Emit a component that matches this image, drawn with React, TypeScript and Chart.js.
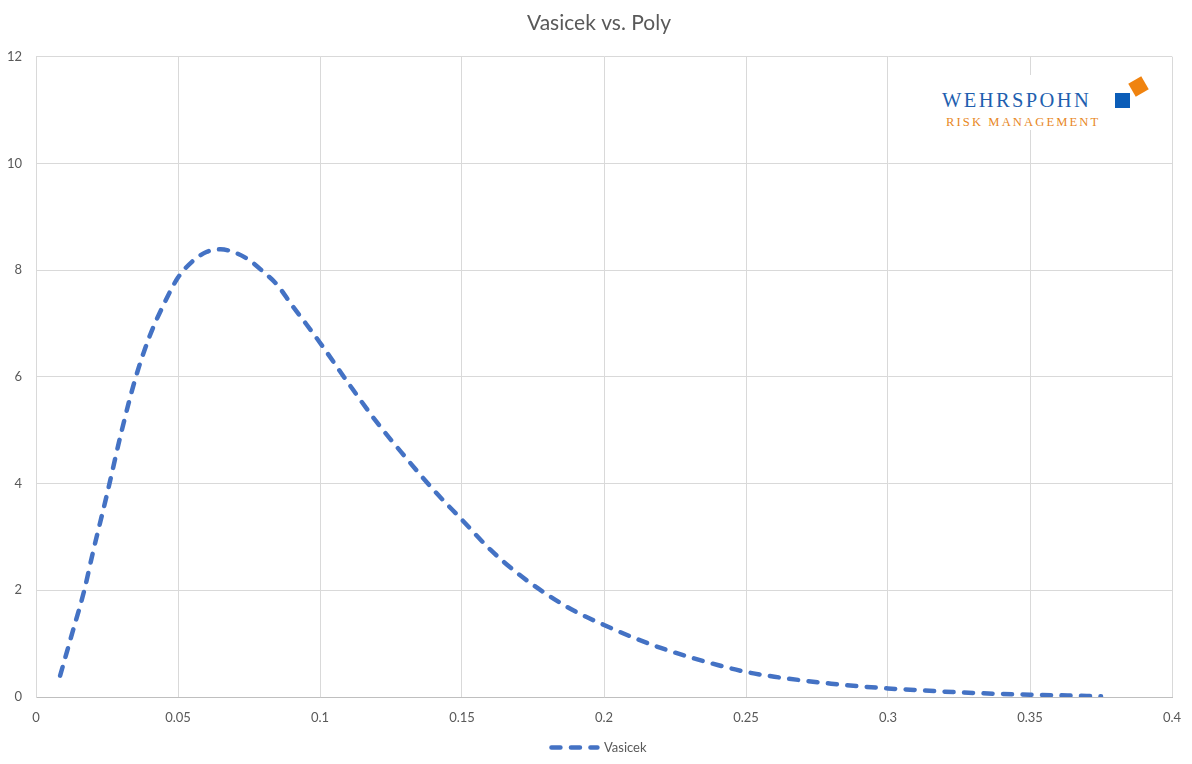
import React, { useEffect, useRef } from "react";
import { Chart, registerables } from "chart.js";

Chart.register(...registerables);

const TITLE = "Vasicek vs. Poly";
const SERIES_NAME = "Vasicek";

const xValues = [
  0.0085, 0.0125, 0.017, 0.02, 0.025, 0.03, 0.035, 0.04, 0.045, 0.05, 0.055, 0.06, 0.065,
  0.07, 0.075, 0.08, 0.085, 0.09, 0.095, 0.1, 0.11, 0.12, 0.13, 0.14, 0.15, 0.16, 0.17,
  0.18, 0.19, 0.2, 0.21, 0.22, 0.23, 0.24, 0.25, 0.26, 0.27, 0.28, 0.29, 0.3, 0.31, 0.32,
  0.33, 0.34, 0.35, 0.36, 0.37, 0.375,
];

const vasicekValues = [
  0.4, 1.15, 2.0, 2.7, 3.8, 4.95, 5.97, 6.76, 7.36, 7.86, 8.16, 8.34, 8.39,
  8.33, 8.19, 7.97, 7.72, 7.35, 7.0, 6.64, 5.88, 5.15, 4.5, 3.88, 3.32, 2.76, 2.3,
  1.92, 1.6, 1.35, 1.12, 0.92, 0.75, 0.6, 0.47, 0.38, 0.31, 0.25, 0.2, 0.16, 0.13, 0.1,
  0.075, 0.058, 0.044, 0.032, 0.02, 0.013,
];

const xMin = 0;
const xMax = 0.4;
const xStep = 0.05;
const yMin = 0;
const yMax = 12;
const yStep = 2;

const FONT = "Lato, 'Open Sans', sans-serif";
const TEXT = "#595959";
const GRID = "#D9D9D9";
const LINE = "#4472C4";
const DASH = [9, 10.5];
const LINE_W = 4.5;

// shifts the title and legend boxes so they are centred like the reference
const centerShift = {
  id: "centerShift",
  afterLayout(chart: any) {
    if (chart.titleBlock) chart.titleBlock.left = 26;
    if (chart.legend) chart.legend.left = 26;
  },
};

export default function App() {
  const ref = useRef<HTMLCanvasElement | null>(null);

  useEffect(() => {
    document.body.style.margin = "0";
    if (!ref.current) return;
    const chart = new Chart(ref.current, {
      type: "line",
      data: {
        datasets: [
          {
            label: SERIES_NAME,
            data: xValues.map((x, i) => ({ x, y: vasicekValues[i] })),
            borderColor: LINE,
            backgroundColor: LINE,
            borderWidth: LINE_W,
            borderDash: DASH,
            borderCapStyle: "round",
            pointRadius: 0,
            pointHoverRadius: 0,
            fill: false,
            cubicInterpolationMode: "monotone",
          },
        ],
      },
      options: {
        animation: false,
        responsive: true,
        maintainAspectRatio: false,
        layout: { padding: { left: 0, right: 20, top: 0, bottom: 0 } },
        plugins: {
          title: {
            display: true,
            text: TITLE,
            color: TEXT,
            font: { family: FONT, size: 21, weight: "normal" },
            padding: { top: 11, bottom: 20.5 },
          },
          legend: {
            display: true,
            position: "bottom",
            labels: {
              color: TEXT,
              font: { family: FONT, size: 13 },
              usePointStyle: true,
              pointStyle: "line",
              pointStyleWidth: 46,
              padding: 6,
              generateLabels: (c: any) =>
                Chart.defaults.plugins.legend.labels.generateLabels(c).map((l: any) => ({
                  ...l,
                  pointStyle: "line",
                  strokeStyle: LINE,
                  fillStyle: LINE,
                  lineWidth: LINE_W,
                  lineDash: DASH,
                  lineCap: "round",
                  fontColor: TEXT,
                })),
            },
          },
          tooltip: { enabled: false },
        },
        scales: {
          x: {
            type: "linear",
            min: xMin,
            max: xMax,
            ticks: {
              stepSize: xStep,
              color: TEXT,
              font: { family: FONT, size: 13 },
              padding: 10,
              maxRotation: 0,
              callback: (v: any) => String(Number(Number(v).toFixed(2))),
            },
            grid: { color: GRID, drawTicks: true, tickLength: 3, tickColor: "rgba(0,0,0,0)" },
            border: { color: "#BFBFBF", width: 1 },
            afterFit: (s: any) => {
              s.height = 38;
            },
          },
          y: {
            min: yMin,
            max: yMax,
            ticks: {
              stepSize: yStep,
              color: TEXT,
              font: { family: FONT, size: 13 },
              padding: 14,
            },
            grid: { color: GRID, drawTicks: false },
            border: { color: GRID, width: 1 },
            afterFit: (s: any) => {
              s.width = 36;
            },
          },
        },
      },
      plugins: [centerShift],
    });
    return () => chart.destroy();
  }, []);

  return (
    <div style={{ position: "absolute", left: 0, top: 0, width: 1192, height: 764, background: "#fff" }}>
      <canvas ref={ref} />
      <div
        style={{
          position: "absolute",
          left: 934,
          top: 75,
          width: 224,
          height: 55,
          background: "#fff",
          fontFamily: "'Liberation Serif', 'DejaVu Serif', serif",
        }}
      >
        <div
          style={{
            position: "absolute",
            left: 8,
            top: 13,
            fontSize: 20.5,
            lineHeight: "24px",
            letterSpacing: 2.4,
            color: "#1F5FAF",
            whiteSpace: "nowrap",
          }}
        >
          WEHRSPOHN
        </div>
        <div
          style={{
            position: "absolute",
            left: 12,
            top: 40,
            fontSize: 12.6,
            lineHeight: "14px",
            letterSpacing: 2.1,
            color: "#E8871E",
            whiteSpace: "nowrap",
          }}
        >
          RISK MANAGEMENT
        </div>
        <div
          style={{
            position: "absolute",
            left: 197,
            top: 4,
            width: 15,
            height: 15,
            background: "#F0830F",
            transform: "rotate(-30deg)",
          }}
        />
        <div
          style={{
            position: "absolute",
            left: 181,
            top: 18,
            width: 15,
            height: 15,
            background: "#0B5DB8",
            boxShadow: "0 0 0 2px #fff",
          }}
        />
      </div>
    </div>
  );
}
